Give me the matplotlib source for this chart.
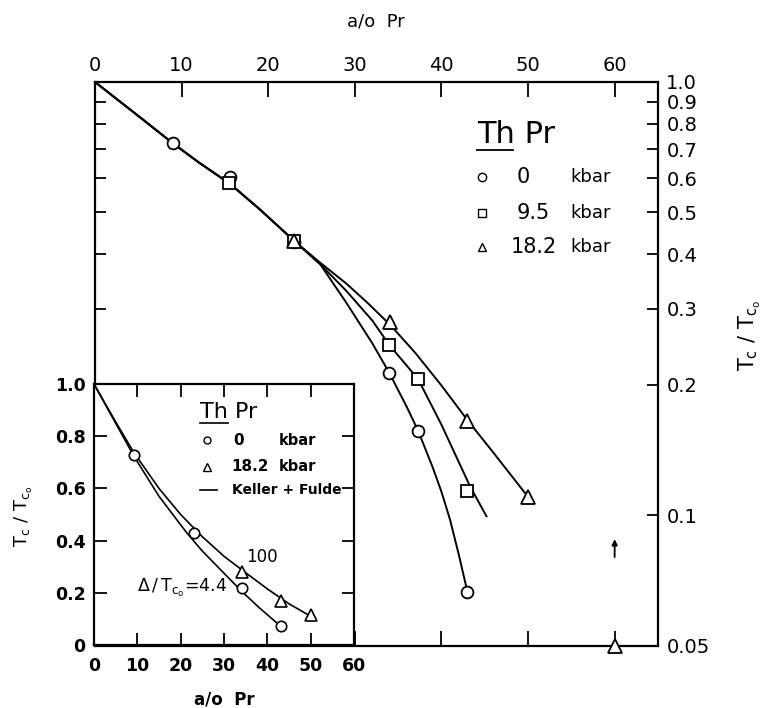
import matplotlib
matplotlib.use('Agg')
import matplotlib.pyplot as plt
from matplotlib.ticker import NullLocator

# ---- main plot data (Th Pr, Tc/Tco vs a/o Pr, log scale) ----
x_0kbar = [9, 15.6, 23, 34, 37.3, 43]
tc_0kbar = [0.725, 0.605, 0.427, 0.213, 0.157, 0.0667]
x_95kbar = [15.5, 23, 34, 37.3, 43]
tc_95kbar = [0.586, 0.43, 0.247, 0.2065, 0.114]
x_182kbar = [23, 34.1, 43, 50, 60]
tc_182kbar = [0.43, 0.28, 0.165, 0.1104, 0.05]

# hand-drawn curves
curve_x_0kbar = [0, 5, 9, 12, 15.6, 19, 23, 26, 29, 32, 34, 36, 37.3, 39, 40, 41, 42, 43]
curve_y_0kbar = [1.0, 0.835, 0.722, 0.652, 0.582, 0.509, 0.43, 0.38, 0.31, 0.25,
                 0.213, 0.178, 0.157, 0.129, 0.1135, 0.0977, 0.0813, 0.0667]
curve_x_95kbar = [0, 5, 9, 12, 15.6, 19, 23, 26, 29, 32, 34, 37.3, 40, 43.3, 45.2]
curve_y_95kbar = [1.0, 0.835, 0.722, 0.652, 0.582, 0.509, 0.43, 0.38, 0.33, 0.282,
                  0.247, 0.2065, 0.162, 0.1168, 0.0996]
curve_x_182kbar = [0, 5, 9, 12, 15.6, 19, 23, 26, 29, 31.5, 34.1, 37, 40, 43, 46, 50]
curve_y_182kbar = [1.0, 0.835, 0.722, 0.652, 0.582, 0.509, 0.43, 0.383, 0.343, 0.309,
                   0.275, 0.237, 0.1995, 0.166, 0.1396, 0.1104]

main_xticks = [0, 10, 20, 30, 40, 50, 60]
main_yticks = [0.05, 0.1, 0.2, 0.3, 0.4, 0.5, 0.6, 0.7, 0.8, 0.9, 1.0]
main_ylabels = ['0.05', '0.1', '0.2', '0.3', '0.4', '0.5', '0.6', '0.7', '0.8', '0.9', '1.0']

# ---- inset data (linear scale) ----
inset_x_0kbar = [9.3, 23.1, 34.2, 43.2]
inset_tc_0kbar = [0.728, 0.43, 0.217, 0.073]
inset_x_182kbar = [34.2, 43.2, 50]
inset_tc_182kbar = [0.281, 0.170, 0.115]

# Keller + Fulde curves
kf_x_100 = [0, 5, 9.3, 15, 20, 25, 30, 34.2, 40, 45, 50]
kf_y_100 = [1.0, 0.855, 0.735, 0.6, 0.5, 0.415, 0.34, 0.287, 0.215, 0.158, 0.11]
kf_x_44 = [0, 5, 9.3, 15, 21.4, 25, 30, 34.2, 38, 43.2]
kf_y_44 = [1.0, 0.85, 0.721, 0.57, 0.43, 0.36, 0.275, 0.204, 0.145, 0.07]

inset_xticks = [0, 10, 20, 30, 40, 50, 60]
inset_yticks = [0, 0.2, 0.4, 0.6, 0.8, 1.0]
inset_ylabels = ['0', '0.2', '0.4', '0.6', '0.8', '1.0']

fig = plt.figure(figsize=(7.69, 7.08), dpi=100)

# ---------------- main axes ----------------
ax = fig.add_axes([0.1235, 0.0876, 0.7321, 0.7966])
ax.set_yscale('log')
ax.set_xlim(0, 65)
ax.set_ylim(0.05, 1.0)

for cx, cy in [(curve_x_0kbar, curve_y_0kbar), (curve_x_95kbar, curve_y_95kbar),
               (curve_x_182kbar, curve_y_182kbar)]:
    ax.plot(cx, cy, color='black', lw=1.4, zorder=2)

mk = dict(mfc='white', mec='black', mew=1.3, ls='none', zorder=3, clip_on=False)
ax.plot(x_0kbar, tc_0kbar, marker='o', ms=8.5, **mk)
ax.plot(x_95kbar, tc_95kbar, marker='s', ms=8, **mk)
ax.plot(x_182kbar, tc_182kbar, marker='^', ms=9.5, **mk)

# small arrow above the 60 a/o point
ax.annotate('', xy=(60, 0.0895), xytext=(60, 0.079),
            arrowprops=dict(arrowstyle='-|>', color='black', lw=1.3, mutation_scale=8))

ax.xaxis.tick_top()
ax.set_xticks(main_xticks)
ax.tick_params(axis='x', direction='in', top=True, bottom=True, labeltop=True,
               labelbottom=False, length=11, width=1.3, labelsize=14, pad=5)
ax.set_yticks(main_yticks)
ax.set_yticklabels(main_ylabels)
ax.yaxis.set_minor_locator(NullLocator())
ax.tick_params(axis='y', which='major', direction='in', left=True, right=True,
               labelleft=False, labelright=True, length=8, width=1.3,
               labelsize=14, pad=6)
for s in ax.spines.values():
    s.set_linewidth(1.6)

# legend of main plot, drawn by hand
ax.text(0.678, 0.892, 'Th Pr', transform=ax.transAxes, fontsize=22,
        ha='left', va='baseline')
ax.plot([0.678, 0.742], [0.8794, 0.8794], transform=ax.transAxes, color='black', lw=1.3)
leg_y = [0.831, 0.7676, 0.708]
leg_mk = ['o', 's', '^']
leg_num = ['0', '9.5', '18.2']
for yy, m, num in zip(leg_y, leg_mk, leg_num):
    ax.plot([0.687], [yy], transform=ax.transAxes, marker=m, ms=6, mfc='white',
            mec='black', mew=1.0, ls='none')
    if num == '18.2':
        ax.text(0.8206, yy, num, transform=ax.transAxes, fontsize=15, ha='right', va='center')
    else:
        ax.text(0.749, yy, num, transform=ax.transAxes, fontsize=15, ha='left', va='center')
    ax.text(0.8437, yy, 'kbar', transform=ax.transAxes, fontsize=13, ha='left', va='center')

fig.text(376 / 769, 1 - 22 / 708, 'a/o  Pr', ha='center', va='center', fontsize=13)
fig.text(750 / 769, 1 - 335 / 708, r'$\mathrm{T_c\ /\ T_{c_o}}$', ha='center',
         va='center', rotation=90, fontsize=15)

# ---------------- inset ----------------
ins = fig.add_axes([0.1222, 0.0890, 0.3381, 0.3686])
ins.set_facecolor('white')
ins.set_xlim(0, 60)
ins.set_ylim(0, 1.0)

ins.plot(kf_x_100, kf_y_100, color='black', lw=1.2)
ins.plot(kf_x_44, kf_y_44, color='black', lw=1.2)
mk2 = dict(mfc='white', mec='black', mew=1.2, ls='none', zorder=3)
ins.plot(inset_x_0kbar, inset_tc_0kbar, marker='o', ms=7.5, **mk2)
ins.plot(inset_x_182kbar, inset_tc_182kbar, marker='^', ms=8.5, **mk2)

ins.set_xticks(inset_xticks)
ins.set_yticks(inset_yticks)
ins.set_yticklabels(inset_ylabels)
ins.tick_params(axis='both', direction='in', top=True, right=True, length=9, width=1.3,
                labelsize=12.5)
ins.tick_params(axis='x', pad=9)
ins.tick_params(axis='y', pad=6)
for lab in ins.get_xticklabels() + ins.get_yticklabels():
    lab.set_fontweight('bold')
for s in ins.spines.values():
    s.set_linewidth(1.6)

ins.text(0.408, 0.868, 'Th Pr', transform=ins.transAxes, fontsize=16, ha='left', va='baseline')
ins.plot([0.408, 0.515], [0.852, 0.852], transform=ins.transAxes, color='black', lw=1.2)
ins.plot([0.433], [0.785], transform=ins.transAxes, marker='o', ms=5, mfc='white',
         mec='black', mew=1.0, ls='none')
ins.text(0.535, 0.785, '0', transform=ins.transAxes, fontsize=11, fontweight='bold', va='center')
ins.text(0.71, 0.785, 'kbar', transform=ins.transAxes, fontsize=10.5, fontweight='bold', va='center')
ins.plot([0.433], [0.683], transform=ins.transAxes, marker='^', ms=5.5, mfc='white',
         mec='black', mew=1.0, ls='none')
ins.text(0.53, 0.683, '18.2', transform=ins.transAxes, fontsize=11, fontweight='bold', va='center')
ins.text(0.71, 0.683, 'kbar', transform=ins.transAxes, fontsize=10.5, fontweight='bold', va='center')
ins.plot([0.408, 0.472], [0.594, 0.594], transform=ins.transAxes, color='black', lw=1.2)
ins.text(0.53, 0.594, 'Keller + Fulde', transform=ins.transAxes, fontsize=10,
         fontweight='bold', va='center')

ins.text(0.645, 0.338, '100', transform=ins.transAxes, fontsize=12, ha='center', va='center')
ins.text(0.164, 0.218, r'$\Delta\,/\,\mathrm{T_{c_o}}$=4.4', transform=ins.transAxes,
         fontsize=12.5, ha='left', va='center')

fig.text(224 / 769, 1 - 699 / 708, 'a/o  Pr', ha='center', va='center', fontsize=12,
         fontweight='bold')
fig.text(24 / 769, 1 - 516 / 708, r'$\mathrm{T_c\ /\ T_{c_o}}$', ha='center', va='center',
         rotation=90, fontsize=13)

fig.savefig('out.png', dpi=100)
